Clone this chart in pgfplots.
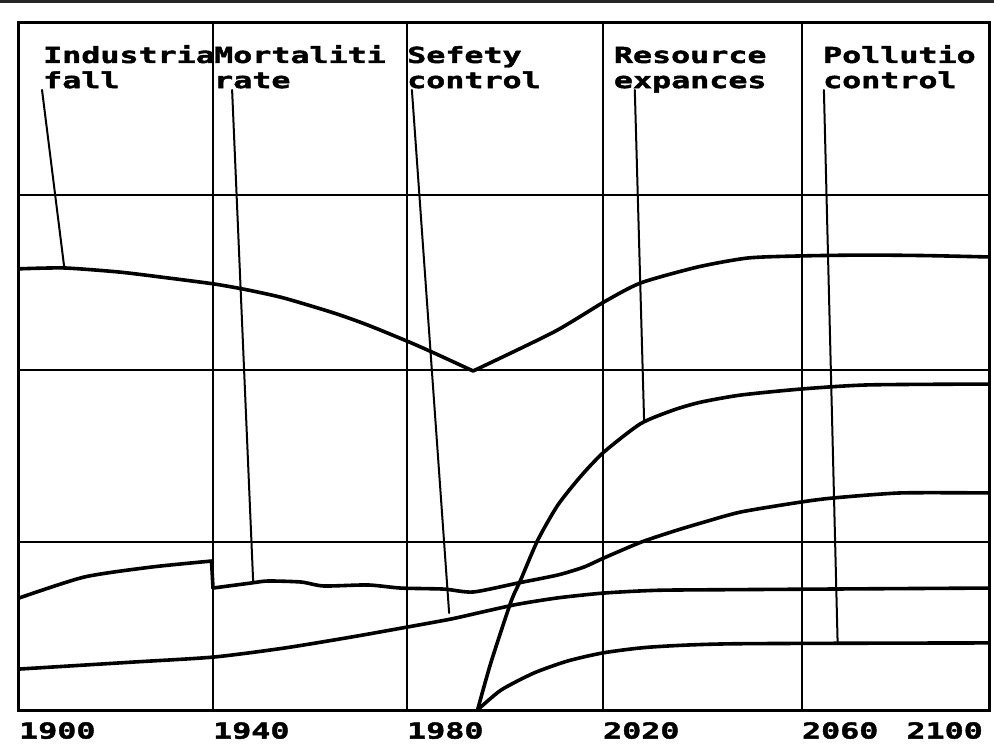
\documentclass[border=0pt]{standalone}
\usepackage{fontspec}
\usepackage{pgfplots}
\pgfplotsset{compat=1.18}
\newfontfamily\pix{DejaVu Sans Mono}[FakeStretch=1.44, FakeBold=2]
\newcommand\pixfnt{\pix\bfseries\fontsize{22}{24}\selectfont}
\begin{document}
\begin{tikzpicture}[x=1pt,y=1pt]
\path[use as bounding box] (0,0) rectangle (994,745);
\fill[black!85] (0,741.5) rectangle (994,745);
\begin{axis}[
  at={(19pt,35pt)}, anchor=south west,
  scale only axis, width=970pt, height=688pt,
  xmin=1900, xmax=2098, ymin=0, ymax=4,
  axis line style={line width=3pt},
  xtick={1900,1939.6,1979.2,2019.2,2059.8},
  xticklabels={1900,1940,1980,2020,2060},
  extra x ticks={2098}, extra x tick labels={2100},
  extra x tick style={grid=none, xticklabel style={anchor=north east, xshift=-6pt}},
  ytick={0.977,1.977,2.994}, yticklabels={},
  major tick length=0pt,
  grid=major, grid style={line width=1.8pt, black},
  xticklabel style={font=\pixfnt, anchor=north west, inner sep=0pt, yshift=-12pt},
  crv/.style={black, solid, line width=3.6pt, line join=round, line cap=round, mark=none},
  lead/.style={black, solid, line width=2pt, line cap=round, mark=none},
]
% curve A (top, V shape)
\addplot[crv, smooth, tension=0.4] coordinates {(1900,2.565) (1909.2,2.570) (1920.2,2.547) (1929,2.517) (1939.8,2.477) (1946.7,2.442) (1954.1,2.395) (1964.3,2.308) (1971.2,2.238) (1979.6,2.140) (1984.7,2.076) (1992.7,1.971)};
\addplot[crv, smooth, tension=0.4] coordinates {(1992.7,1.971) (2009.2,2.198) (2019.4,2.372) (2026.9,2.483) (2038.6,2.576) (2048.8,2.628) (2059.6,2.640) (2072.4,2.645) (2085,2.642) (2098,2.634)};
% curve B (steep S)
\addplot[crv, smooth, tension=0.4] coordinates {(1993.6,0) (1996.3,0.273) (2000.4,0.628) (2002.4,0.756) (2005.9,0.988) (2010,1.192) (2014.7,1.36) (2019.4,1.50) (2026.9,1.665) (2033.7,1.745) (2039.2,1.79) (2047.3,1.831) (2059.6,1.866) (2073.3,1.890) (2098,1.895)};
% curve C (with drop)
\addplot[crv, smooth, tension=0.4] coordinates {(1900,0.651) (1913.3,0.773) (1927,0.831) (1939.3,0.866)};
\addplot[crv] coordinates {(1939.3,0.866) (1939.6,0.709)};
\addplot[crv, smooth, tension=0.4] coordinates {(1939.6,0.709) (1947.3,0.738) (1950.8,0.750) (1957.6,0.744) (1962.2,0.721) (1971.2,0.727) (1977.9,0.709) (1986.7,0.703) (1992.7,0.686) (2001.8,0.738) (2010,0.785) (2015.3,0.831) (2019.4,0.884) (2026.9,0.975) (2033.7,1.04) (2039.2,1.087) (2047.3,1.151) (2059.6,1.209) (2066.3,1.233) (2080,1.262) (2098,1.262)};
% curve D
\addplot[crv, smooth, tension=0.4] coordinates {(1900,0.238) (1923.5,0.279) (1939.8,0.308) (1954.1,0.360) (1967.8,0.424) (1979.4,0.483) (1988.2,0.529) (1994.9,0.572) (2001.8,0.615) (2010,0.652) (2019.4,0.680) (2030.4,0.696) (2047.3,0.700) (2098,0.709)};
% curve E
\addplot[crv, smooth, tension=0.4] coordinates {(1993.6,0) (1998.4,0.116) (2005.1,0.215) (2012,0.285) (2019.4,0.333) (2029,0.366) (2045.9,0.385) (2098,0.390)};
% leader lines
\addplot[lead] coordinates {(1904.7,3.605) (1909.2,2.581)};
\addplot[lead] coordinates {(1943.5,3.605) (1947.8,0.744)};
\addplot[lead] coordinates {(1980.2,3.605) (1987.8,0.564)};
\addplot[lead] coordinates {(2025.7,3.605) (2027.6,1.680)};
\addplot[lead] coordinates {(2064.3,3.605) (2067.1,0.390)};
% labels
\node[anchor=base west, inner sep=0pt, font=\pixfnt] at (axis cs:1904.9,3.762) {Industria};
\node[anchor=base west, inner sep=0pt, font=\pixfnt] at (axis cs:1904.9,3.616) {fall};
\node[anchor=base west, inner sep=0pt, font=\pixfnt] at (axis cs:1939.8,3.762) {Mortaliti};
\node[anchor=base west, inner sep=0pt, font=\pixfnt] at (axis cs:1939.8,3.616) {rate};
\node[anchor=base west, inner sep=0pt, font=\pixfnt] at (axis cs:1979.2,3.762) {Sefety};
\node[anchor=base west, inner sep=0pt, font=\pixfnt] at (axis cs:1979.2,3.616) {control};
\node[anchor=base west, inner sep=0pt, font=\pixfnt] at (axis cs:2021.4,3.762) {Resource};
\node[anchor=base west, inner sep=0pt, font=\pixfnt] at (axis cs:2021.4,3.616) {expances};
\node[anchor=base west, inner sep=0pt, font=\pixfnt] at (axis cs:2064.1,3.762) {Pollutio};
\node[anchor=base west, inner sep=0pt, font=\pixfnt] at (axis cs:2064.1,3.616) {control};
\end{axis}
\end{tikzpicture}
\end{document}
